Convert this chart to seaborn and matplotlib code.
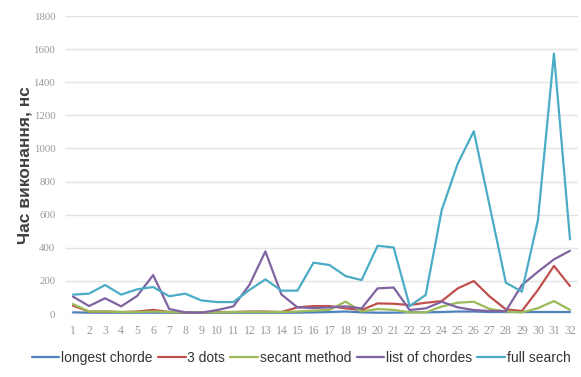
import matplotlib
matplotlib.use("Agg")
import matplotlib.pyplot as plt
import seaborn as sns
import pandas as pd
import numpy as np

x_vals = list(range(1, 33))
longest_chorde = [10,8,8,8,8,8,8,8,8,8,8,8,8,8,8,10,12,15,10,8,8,10,10,12,15,15,12,12,12,12,12,12]
three_dots = [50,15,15,12,15,25,12,10,10,12,12,15,15,12,40,48,48,34,24,64,62,54,68,78,155,199,105,28,18,145,290,169]
secant_method = [60,15,15,12,12,15,12,10,10,10,12,12,12,12,15,20,25,75,15,30,25,10,10,45,68,74,30,15,10,35,78,25]
list_of_chordes = [105,48,95,46,109,235,30,10,8,24,46,175,378,118,40,36,40,46,34,155,160,24,34,74,40,24,18,18,175,255,330,382]
full_search = [117,123,175,117,149,163,107,123,82,72,72,145,209,141,141,310,296,229,205,412,402,48,115,628,909,1104,648,189,135,567,1573,451]

series_names = ["longest chorde", "3 dots", "secant method", "list of chordes", "full search"]
series_values = [longest_chorde, three_dots, secant_method, list_of_chordes, full_search]
colors = ["#4F81BD", "#C0504D", "#9BBB59", "#8064A2", "#4BACC6"]
y_ticks = [0, 200, 400, 600, 800, 1000, 1200, 1400, 1600, 1800]
y_label = "Час виконання, нс"

df = pd.concat([pd.DataFrame({"x": x_vals, "y": v, "series": n})
                for n, v in zip(series_names, series_values)], ignore_index=True)

sns.set_theme(style="white")
plt.rcParams['font.family'] = ['Liberation Sans', 'DejaVu Sans']

fig = plt.figure(figsize=(5.81, 3.77), dpi=100)
ax = fig.add_axes([65/581, 1 - 314/377, (578-65)/581, (314-16)/377])

sns.lineplot(data=df, x="x", y="y", hue="series", hue_order=series_names,
             palette=colors, linewidth=1.6, ax=ax, legend=True)

ax.set_xlim(0.5, 32.5)
ax.set_ylim(0, 1800)
ax.set_yticks(y_ticks)
ax.set_yticklabels([str(t) for t in y_ticks], family=['Liberation Serif'], fontsize=7.8)
ax.set_xticks(x_vals)
ax.set_xticklabels([str(v) for v in x_vals], family=['Liberation Serif'], fontsize=8.5)
ax.tick_params(axis='both', colors="#999999", length=0)
ax.tick_params(axis='y', pad=7)
ax.tick_params(axis='x', pad=8)
for s in ax.spines.values():
    s.set_visible(False)
ax.grid(axis='y', color="#E3E3E3", linewidth=1)
ax.set_axisbelow(True)
ax.set_xlabel("")
ax.set_ylabel(y_label, fontsize=12.5, fontweight='bold', color="#404040")
ax.yaxis.set_label_coords(-0.064, 0.5)

handles, labels = ax.get_legend_handles_labels()
ax.legend(handles, labels, loc='center', bbox_to_anchor=(301/581, 1 - 358/377),
          bbox_transform=fig.transFigure, ncol=5, frameon=False,
          handlelength=2.0, handletextpad=0.1, columnspacing=0.4,
          prop={'family': ['Liberation Sans'], 'size': 10},
          labelcolor="#333333")

fig.savefig("out.png", dpi=100)
